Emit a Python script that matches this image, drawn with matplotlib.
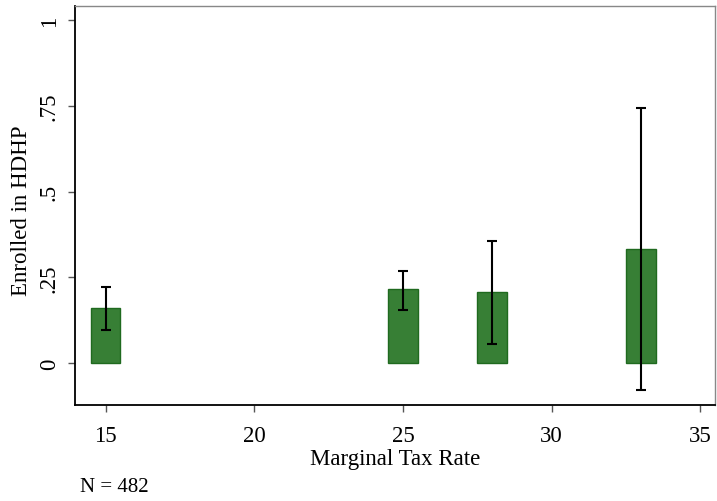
import numpy as np
import matplotlib
matplotlib.use("Agg")
import matplotlib.pyplot as plt

plt.rcParams['font.family'] = ['Liberation Serif', 'DejaVu Serif']

# marginal tax rate groups, share enrolled in HDHP and 95% CI
tax_rate = [15, 25, 28, 33]
share = [0.162, 0.215, 0.207, 0.334]
ci_low = [0.097, 0.155, 0.055, -0.079]
ci_high = [0.222, 0.269, 0.355, 0.745]

xticks = [15, 20, 25, 30, 35]
yticks = [0, 0.25, 0.5, 0.75, 1]
ytick_labels = ["0", ".25", ".5", ".75", "1"]

fig = plt.figure(figsize=(7.17, 5.02), dpi=100)
ax = fig.add_axes([75/717, 1 - 406/502, 640/717, 399/502])

share = np.array(share)
err = [share - np.array(ci_low), np.array(ci_high) - share]

ax.bar(tax_rate, share, width=1.0, color='#377f35', edgecolor='#1f6a1f',
       linewidth=1.0, zorder=2)
ax.errorbar(tax_rate, share, yerr=err, fmt='none', ecolor='black',
            elinewidth=1.5, capsize=3.6, capthick=1.5, zorder=3)

ax.set_xlim(13.97, 35.5)
ax.set_ylim(-0.122, 1.041)
ax.set_xticks(xticks)
ax.set_yticks(yticks)
ax.set_yticklabels(ytick_labels, rotation=90, va='center')
ax.tick_params(axis='both', direction='out', length=5, width=1,
               color='#555555', labelsize=16.5)
ax.tick_params(axis='x', pad=9.5)
ax.tick_params(axis='y', pad=6)

for side in ['left', 'bottom']:
    ax.spines[side].set_color('black')
    ax.spines[side].set_linewidth(1.3)
for side in ['top', 'right']:
    ax.spines[side].set_color('#888888')
    ax.spines[side].set_linewidth(1.0)

ax.set_xlabel("Marginal Tax Rate", fontsize=16.5, va='baseline')
ax.xaxis.set_label_coords(0.5, -(465 - 406) / 399)
ax.set_ylabel("Enrolled in HDHP", fontsize=16.5)
ax.yaxis.set_label_coords(-(75 - 32) / 640, 0.49)

fig.text(80/717, 1 - 492/502, "N = 482", fontsize=15, va='baseline', ha='left')

fig.savefig("out.png", dpi=100)
